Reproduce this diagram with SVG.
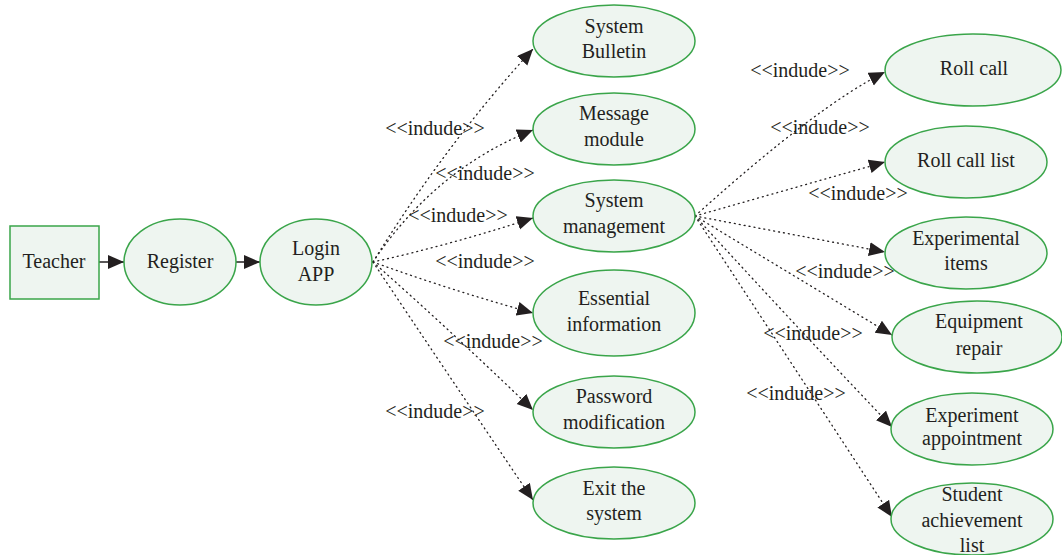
<svg xmlns="http://www.w3.org/2000/svg" width="1062" height="555" viewBox="0 0 1062 555">
<style>
  .node { fill: #eef5f0; stroke: #3aa54a; stroke-width: 1.5; }
  .solid { fill: none; stroke: #231f20; stroke-width: 1.5; }
  .dot { fill: none; stroke: #231f20; stroke-width: 1.3; stroke-dasharray: 1 4; stroke-linecap: round; }
</style>
<defs>
  <marker id="arr" markerUnits="userSpaceOnUse" markerWidth="17" markerHeight="15" refX="16" refY="7" orient="auto">
    <path d="M0,0 L16,7 L0,14 z" fill="#231f20"/>
  </marker>
</defs>
<rect width="1062" height="555" fill="#ffffff"/>

<g font-family="Liberation Serif, Times New Roman, Times, serif" font-size="20" fill="#231f20" text-anchor="middle">
<g id="connectors">
  <path class="solid" d="M99,262 L124,262" marker-end="url(#arr)"/>
  <path class="solid" d="M236,262 L260,262" marker-end="url(#arr)"/>

  <path class="dot" d="M373,262 Q445,145 533,49" marker-end="url(#arr)"/>
  <path class="dot" d="M373,262 Q435,169 533,130" marker-end="url(#arr)"/>
  <path class="dot" d="M373,262 Q450,245 533,218" marker-end="url(#arr)"/>
  <path class="dot" d="M373,262 Q450,290 533,313" marker-end="url(#arr)"/>
  <path class="dot" d="M373,262 Q450,330 533,410" marker-end="url(#arr)"/>
  <path class="dot" d="M373,262 Q445,370 533,500" marker-end="url(#arr)"/>

  <path class="dot" d="M695,216 Q817,106 885,72" marker-end="url(#arr)"/>
  <path class="dot" d="M695,216 L885,162" marker-end="url(#arr)"/>
  <path class="dot" d="M695,216 L885,252" marker-end="url(#arr)"/>
  <path class="dot" d="M695,216 L892,335" marker-end="url(#arr)"/>
  <path class="dot" d="M695,216 Q790,320 892,427" marker-end="url(#arr)"/>
  <path class="dot" d="M695,216 L892,517" marker-end="url(#arr)"/>

  <text x="435" y="135">&lt;&lt;indude&gt;&gt;</text>
  <text x="485" y="180">&lt;&lt;indude&gt;&gt;</text>
  <text x="458" y="222">&lt;&lt;indude&gt;&gt;</text>
  <text x="485" y="268">&lt;&lt;indude&gt;&gt;</text>
  <text x="493" y="348">&lt;&lt;indude&gt;&gt;</text>
  <text x="435" y="418">&lt;&lt;indude&gt;&gt;</text>

  <text x="800" y="77">&lt;&lt;indude&gt;&gt;</text>
  <text x="820" y="134">&lt;&lt;indude&gt;&gt;</text>
  <text x="858" y="200">&lt;&lt;indude&gt;&gt;</text>
  <text x="845" y="278">&lt;&lt;indude&gt;&gt;</text>
  <text x="813" y="340">&lt;&lt;indude&gt;&gt;</text>
  <text x="796" y="400">&lt;&lt;indude&gt;&gt;</text>
</g>

<g id="teacher">
  <rect class="node" x="10" y="226" width="89" height="73"/>
  <text x="54" y="268">Teacher</text>
</g>
<g id="register">
  <ellipse class="node" cx="180" cy="262" rx="56" ry="43"/>
  <text x="180" y="268">Register</text>
</g>
<g id="login">
  <ellipse class="node" cx="316" cy="262" rx="56" ry="43"/>
  <text x="316" y="255">Login</text>
  <text x="316" y="281">APP</text>
</g>

<g id="system-bulletin">
  <ellipse class="node" cx="614" cy="41" rx="81" ry="36"/>
  <text x="614" y="33">System</text>
  <text x="614" y="58">Bulletin</text>
</g>
<g id="message-module">
  <ellipse class="node" cx="614" cy="129" rx="81" ry="36"/>
  <text x="614" y="120">Message</text>
  <text x="614" y="146">module</text>
</g>
<g id="system-management">
  <ellipse class="node" cx="614" cy="216" rx="81" ry="36"/>
  <text x="614" y="207">System</text>
  <text x="614" y="233">management</text>
</g>
<g id="essential-information">
  <ellipse class="node" cx="614" cy="313" rx="81" ry="43"/>
  <text x="614" y="305">Essential</text>
  <text x="614" y="331">information</text>
</g>
<g id="password-modification">
  <ellipse class="node" cx="614" cy="412" rx="81" ry="36"/>
  <text x="614" y="403">Password</text>
  <text x="614" y="429">modification</text>
</g>
<g id="exit-system">
  <ellipse class="node" cx="614" cy="503" rx="81" ry="36"/>
  <text x="614" y="495">Exit the</text>
  <text x="614" y="520">system</text>
</g>

<g id="roll-call">
  <ellipse class="node" cx="973" cy="70" rx="88" ry="36"/>
  <text x="974" y="75">Roll call</text>
</g>
<g id="roll-call-list">
  <ellipse class="node" cx="966" cy="162" rx="81" ry="36"/>
  <text x="966" y="167">Roll call list</text>
</g>
<g id="experimental-items">
  <ellipse class="node" cx="966" cy="253" rx="81" ry="36"/>
  <text x="966" y="245">Experimental</text>
  <text x="966" y="270">items</text>
</g>
<g id="equipment-repair">
  <ellipse class="node" cx="977" cy="337" rx="85" ry="36"/>
  <text x="979" y="328">Equipment</text>
  <text x="979" y="355">repair</text>
</g>
<g id="experiment-appointment">
  <ellipse class="node" cx="972" cy="429" rx="81" ry="36"/>
  <text x="972" y="422">Experiment</text>
  <text x="972" y="445">appointment</text>
</g>
<g id="student-achievement-list">
  <ellipse class="node" cx="972" cy="519" rx="81" ry="36"/>
  <text x="972" y="501">Student</text>
  <text x="972" y="527">achievement</text>
  <text x="972" y="552">list</text>
</g>
</g>
</svg>
